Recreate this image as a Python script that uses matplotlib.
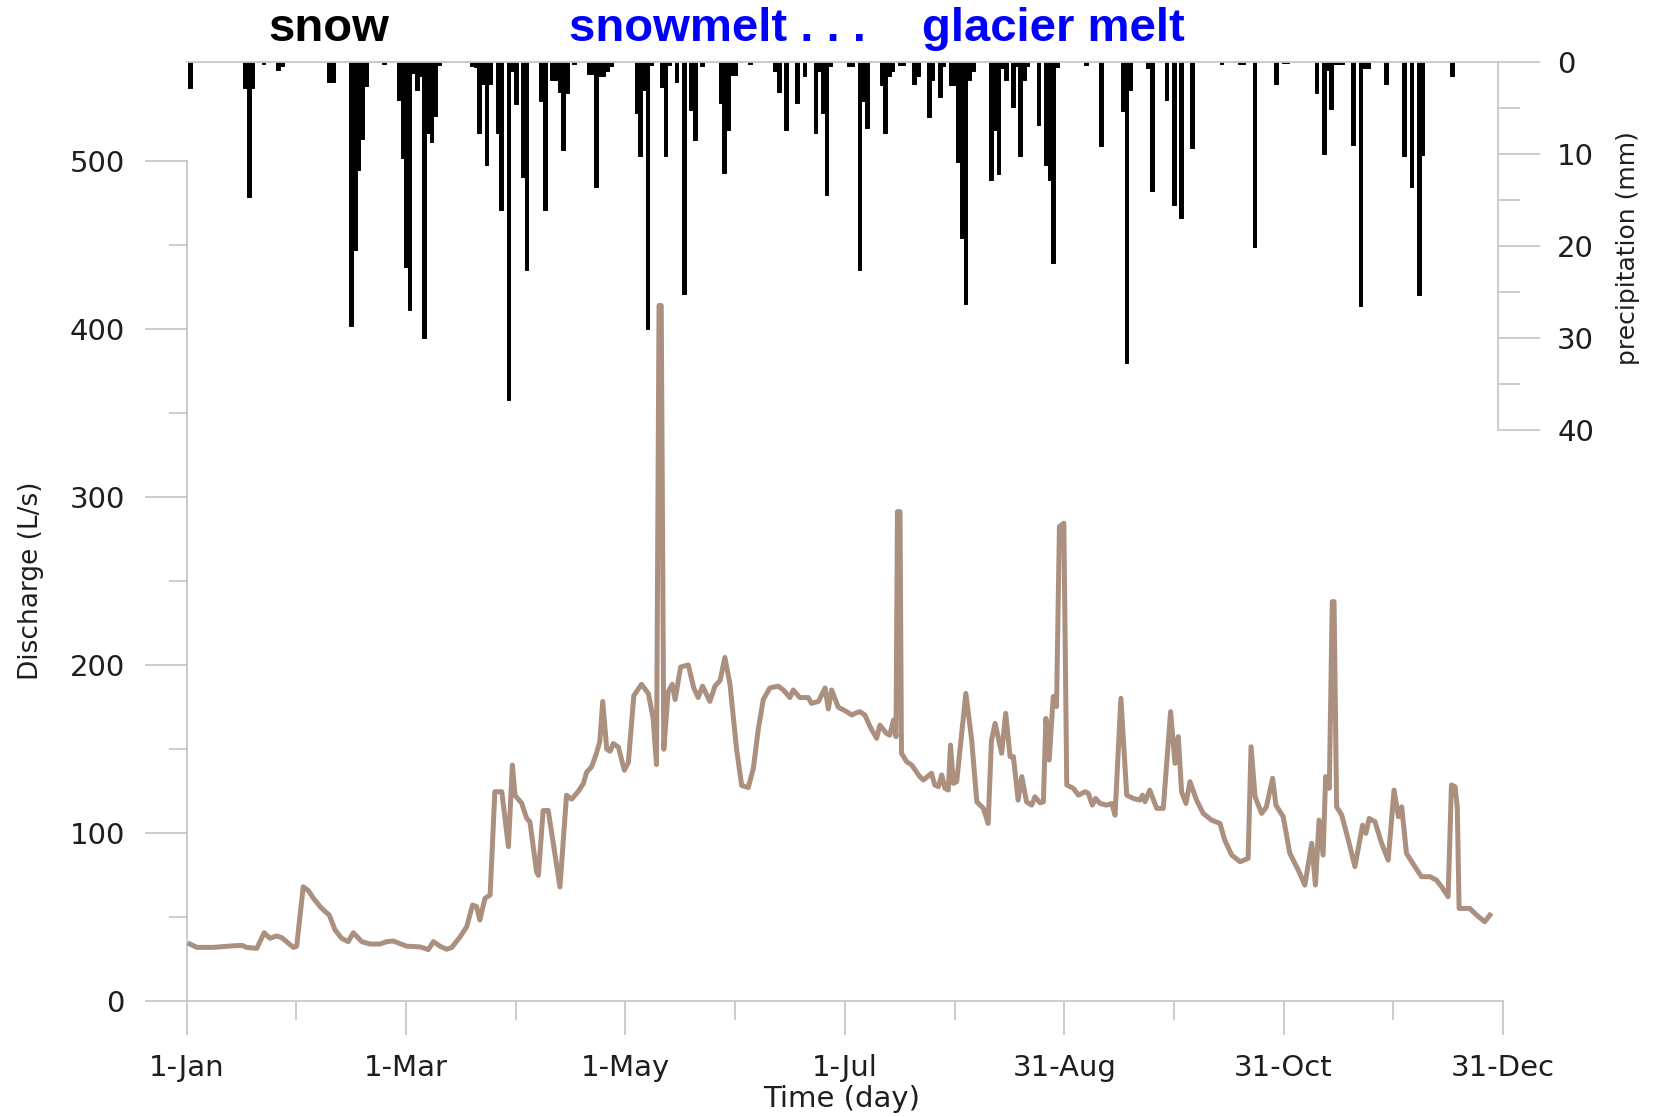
import matplotlib
matplotlib.use("Agg")
import matplotlib.pyplot as plt
from matplotlib.ticker import FixedLocator

# discharge (L/s), vertices: day of year -> value
q_day = [0.9, 2.8, 7.3, 11.9, 15.1, 16.4, 19.2, 21.2, 22.8, 24.6, 26.0, 29.2, 30.1,
         31.9, 33.3, 34.7, 36.5, 37.9, 39.0, 40.6, 42.4, 44.2, 45.6, 47.9, 50.2, 52.9,
         54.7, 56.5, 60.2, 63.8, 66.1, 67.5, 69.3, 71.1, 72.5, 74.8, 76.6, 78.2, 79.3,
         80.2, 81.6, 83.0, 84.3, 86.2, 88.0, 89.1, 89.8, 91.6, 93.0, 93.9, 95.7, 96.2,
         97.5, 98.9, 102.1, 103.9, 105.3, 107.1, 108.5, 109.4, 110.8, 112.1, 113.0,
         113.8, 114.9, 115.8, 116.7, 118.1, 119.7, 120.8, 122.3, 124.4, 126.3, 127.6,
         128.5, 129.2, 129.8, 130.5, 131.7, 132.8, 133.6, 135.1, 137.2, 138.7, 139.9,
         141.1, 143.1, 144.5, 145.9, 147.2, 148.6, 150.4, 151.8, 153.6, 155.0, 156.3,
         157.7, 159.5, 161.8, 163.2, 165.0, 165.9, 167.7, 170.0, 170.9, 172.8, 174.6,
         175.5, 176.4, 178.2, 180.5, 181.9, 182.8, 184.1, 185.5, 186.9, 188.7, 189.6,
         191.4, 192.3, 193.3, 194.0, 194.4, 195.1, 195.5, 196.9, 198.3, 200.5, 201.5,
         203.7, 204.6, 205.6, 206.5, 207.4, 208.3, 208.9, 209.7, 210.6, 213.1, 214.7,
         216.1, 217.9, 219.2, 220.1, 221.1, 222.9, 224.0, 225.2, 226.1, 227.4, 228.4,
         229.7, 231.1, 232.0, 233.4, 234.3, 235.0, 235.9, 237.0, 237.9, 238.7, 239.9,
         240.7, 242.5, 243.9, 245.7, 246.6, 247.7, 248.6, 249.8, 251.6, 253.0, 253.9,
         255.5, 257.1, 258.9, 260.7, 261.4, 262.1, 263.4, 265.3, 267.1, 269.1, 270.3,
         271.2, 272.1, 273.3, 274.4, 276.2, 278.0, 280.3, 282.6, 283.9, 285.8, 288.1,
         290.3, 291.1, 292.2, 294.0, 295.3, 297.0, 297.9, 299.9, 301.7, 304.0, 305.8,
         307.7, 308.7, 309.7, 310.8, 311.5, 312.5, 313.3, 313.8, 314.5, 315.9, 317.7,
         319.5, 321.6, 322.5, 323.4, 325.0, 326.8, 328.6, 330.2, 331.4, 332.3, 333.6,
         335.9, 337.7, 340.0, 341.8, 343.2, 345.0, 345.9, 346.9, 347.5, 348.0, 350.9,
         352.8, 355.0, 356.4]
q_val = [33.7, 31.7, 31.7, 32.5, 32.9, 31.7, 31.1, 40.4, 37.1, 38.5, 37.5, 31.7, 32.4,
         67.8, 65.5, 60.9, 56.0, 53.0, 51.0, 42.1, 37.1, 35.1, 40.4, 35.1, 33.7, 33.7,
         35.1, 35.5, 32.4, 32.0, 30.4, 35.1, 32.4, 30.6, 31.6, 38.0, 44.0, 56.9, 56.0,
         48.0, 60.9, 62.9, 124.4, 124.4, 91.7, 140.3, 122.3, 117.7, 108.6, 106.4, 76.7, 74.6,
         113.2, 113.2, 67.7, 122.3, 120.0, 124.6, 129.2, 136.0, 139.4, 147.4, 154.3,
         178.2, 149.7, 148.5, 153.1, 150.9, 137.2, 141.7, 181.6, 188.4, 182.8, 168.0,
         140.6, 414.0, 414.0, 149.7, 183.9, 188.4, 179.3, 198.7, 199.9, 186.2, 180.5,
         187.3, 178.2, 187.3, 190.7, 204.4, 188.4, 149.7, 128.1, 126.9, 138.3, 161.1,
         179.3, 186.2, 187.3, 185.0, 180.5, 185.0, 180.5, 180.5, 177.0, 178.2, 186.2,
         173.7, 185.0, 174.8, 172.1, 170.1, 171.1, 172.1, 170.1, 163.2, 156.2, 164.1,
         159.1, 158.1, 167.1, 157.2, 291.2, 291.2, 147.3, 142.3, 140.3, 133.4, 131.4,
         135.4, 128.4, 127.4, 134.4, 126.4, 125.4, 152.2, 129.4, 130.4, 183.0, 155.2,
         118.4, 114.5, 105.5, 154.8, 165.1, 147.3, 171.1, 145.3, 145.3, 119.4, 133.4,
         118.4, 116.4, 121.4, 117.8, 118.4, 168.1, 143.3, 181.1, 175.1, 282.3, 284.3,
         128.4, 126.4, 122.4, 124.4, 123.4, 116.4, 120.4, 117.4, 116.4, 117.4, 110.4,
         180.0, 122.4, 120.4, 119.4, 122.4, 118.4, 125.4, 114.5, 114.5, 172.1, 141.3,
         157.2, 124.4, 117.4, 130.4, 119.4, 111.5, 107.5, 105.5, 95.6, 86.7, 82.7,
         84.7, 151.2, 121.4, 111.5, 115.4, 132.4, 116.4, 109.5, 87.7, 77.8, 68.8,
         93.7, 68.8, 107.5, 86.7, 133.4, 126.4, 237.6, 237.6, 115.4, 110.5, 95.6,
         79.8, 104.5, 99.6, 108.5, 106.5, 93.7, 83.7, 125.4, 109.5, 115.4, 87.7,
         79.8, 73.8, 73.8, 71.8, 67.8, 61.9, 128.4, 127.4, 115.0, 54.9, 54.9,
         50.9, 47.0, 50.9]

# daily precipitation (mm), days without rain left out
p_day = [1, 16, 17, 18, 21, 25, 26, 39, 40, 45, 46, 47, 48, 49, 54,
         58, 59, 60, 61, 62, 63, 64, 65, 66, 67, 68, 69, 78, 79, 80, 81, 82, 83,
         85, 86, 88, 89, 90, 92, 93, 97, 98, 100, 101, 102, 103, 104, 106,
         110, 111, 112, 113, 114, 115, 116, 123, 124, 125, 126, 127, 130, 131, 132,
         134, 136, 138, 139, 141, 146, 147, 148, 149, 150, 154, 161, 162, 164, 167,
         169, 172, 173, 174, 175, 176, 181, 182, 184, 185, 186, 190, 191, 192, 193,
         195, 196, 199, 200, 203, 204, 206, 207, 209, 210, 211, 212, 213, 214, 215,
         220, 221, 222, 223, 224, 226, 227, 228, 229, 230, 233, 235, 236, 237, 238,
         246, 250, 256, 257, 258, 263, 264, 268, 270, 272, 275, 283, 288, 289, 292,
         298, 300, 301, 309, 311, 312, 313, 314, 315, 316, 319, 321, 322, 323, 328,
         333, 335, 337, 338, 346]
p_mm = [2.9, 2.9, 14.7, 2.9, 0.2, 0.9, 0.5, 2.2, 2.2, 28.7, 20.5, 11.8, 8.4, 2.6, 0.2,
        4.2, 10.5, 22.3, 27.0, 1.2, 3.1, 1.5, 30.0, 7.7, 8.7, 5.9, 0.4, 0.5, 0.6, 7.8, 2.4, 11.2, 2.4,
        7.8, 16.1, 36.8, 1.0, 4.6, 12.5, 22.6, 4.3, 16.1, 2.0, 2.0, 3.3, 9.6, 3.4, 0.2,
        1.3, 1.3, 13.6, 1.5, 1.5, 1.0, 0.5, 5.6, 10.3, 3.1, 29.0, 0.4, 2.7, 10.3, 0.4,
        2.2, 25.2, 5.3, 8.5, 0.5, 4.5, 12.1, 7.4, 1.4, 1.4, 0.3, 1.0, 3.3, 7.4, 4.5,
        1.6, 7.8, 1.0, 5.6, 14.5, 0.5, 0.5, 0.5, 22.6, 4.3, 7.2, 2.5, 7.8, 1.6, 1.0,
        0.4, 0.4, 2.4, 1.5, 6.0, 2.0, 3.8, 0.5, 2.5, 2.5, 10.9, 19.2, 26.3, 2.0, 1.0,
        12.9, 7.4, 12.2, 0.7, 2.0, 4.9, 0.5, 10.3, 2.0, 0.5, 6.9, 11.2, 12.9, 21.9, 0.6,
        0.4, 9.2, 5.4, 32.8, 3.1, 0.7, 14.0, 4.2, 15.6, 17.0, 9.4, 0.2, 0.2, 0.2, 20.1,
        2.4, 0.1, 0.1, 3.4, 10.0, 0.9, 5.1, 0.2, 0.2, 0.2, 9.1, 26.6, 0.7, 0.7, 2.4,
        10.3, 13.6, 25.4, 10.1, 1.6]

month_ticks = [0, 60, 120, 180, 240, 300, 360]
month_labels = ['1-Jan', '1-Mar', '1-May', '1-Jul', '31-Aug', '31-Oct', '31-Dec']
mid_ticks = [30, 90, 150, 210, 270, 330]

W, H = 1662, 1117
grey = '#c8c8c8'
txt = '#1e1e1e'
line_col = '#ab9080'
fnt = 'DejaVu Sans'

fig = plt.figure(figsize=(W / 100, H / 100), dpi=100)
# axes box: day 0..360 horizontally, discharge 0 at bottom, rain 0 at top
x0, x1 = 186.6, 1503.0
y0, y1 = 1000.6, 61.7
ax = fig.add_axes([x0 / W, 1 - y0 / H, (x1 - x0) / W, (y0 - y1) / H])
ax.set_xlim(0, 360)
ax.set_ylim(0, (y0 - y1) / 1.679)

ax.plot(q_day, q_val, color=line_col, lw=3.6, solid_joinstyle='round', zorder=3)

for s in ['top', 'right']:
    ax.spines[s].set_visible(False)
for s in ['left', 'bottom']:
    ax.spines[s].set_color(grey)
    ax.spines[s].set_linewidth(1.3)
ax.spines['left'].set_bounds(0, 500)
ax.spines['bottom'].set_bounds(0, 360)

ax.yaxis.set_major_locator(FixedLocator([0, 100, 200, 300, 400, 500]))
ax.yaxis.set_minor_locator(FixedLocator([50, 150, 250, 350, 450]))
ax.xaxis.set_major_locator(FixedLocator(month_ticks))
ax.xaxis.set_minor_locator(FixedLocator(mid_ticks))
ax.set_xticklabels(month_labels)
ax.tick_params(axis='y', which='major', length=30.5, width=1.3, color=grey, pad=14,
               labelsize=21, labelcolor=txt)
ax.tick_params(axis='y', which='minor', length=13, width=1.3, color=grey)
ax.tick_params(axis='x', which='major', length=24.5, width=1.3, color=grey, pad=14,
               labelsize=21, labelcolor=txt)
ax.tick_params(axis='x', which='minor', length=13.5, width=1.3, color=grey)
for lab in ax.get_xticklabels() + ax.get_yticklabels():
    lab.set_family(fnt)

# precipitation hanging from the top
pax = ax.twinx()
pax.set_ylim((y0 - y1) / 9.2, 0)
pax.bar(p_day, p_mm, width=1.0, color='black', edgecolor='black', linewidth=0.7, zorder=2)
for s in ['left', 'bottom']:
    pax.spines[s].set_visible(False)
for s in ['top', 'right']:
    pax.spines[s].set_color(grey)
    pax.spines[s].set_linewidth(1.3)
pax.spines['right'].set_position(('data', 358.5))
pax.spines['right'].set_bounds(0, 40)
pax.spines['top'].set_bounds(0, 358.5)
pax.yaxis.set_major_locator(FixedLocator([0, 10, 20, 30, 40]))
pax.yaxis.set_minor_locator(FixedLocator([5, 15, 25, 35]))
pax.tick_params(axis='y', which='major', length=30, width=1.3, color=grey, pad=13,
                labelsize=21, labelcolor=txt)
pax.tick_params(axis='y', which='minor', length=16, width=1.3, color=grey)
for lab in pax.get_yticklabels():
    lab.set_family(fnt)

# axis titles
fig.text(31 / W, 1 - 581 / H, 'Discharge (L/s)', rotation=90, ha='center', va='center',
         fontsize=19, color=txt, family=fnt)
fig.text(1628 / W, 1 - 248 / H, 'precipitation (mm)', rotation=90, ha='center', va='center',
         fontsize=18, color=txt, family=fnt)
fig.text(842 / W, 1 - 1099 / H, 'Time (day)', ha='center', va='center',
         fontsize=21, color=txt, family=fnt)

# season labels
fig.text(268 / W, 1 - 41 / H, 'snow', fontsize=34, fontweight='bold',
         family='Liberation Sans', color='black', va='baseline')
fig.text(569 / W, 1 - 41 / H, 'snowmelt . . .', fontsize=34, fontweight='bold',
         family='Liberation Sans', color='#0000ff', va='baseline')
fig.text(922 / W, 1 - 41 / H, 'glacier melt', fontsize=34, fontweight='bold',
         family='Liberation Sans', color='#0000ff', va='baseline')

fig.savefig('out.png', dpi=100, facecolor='white')
